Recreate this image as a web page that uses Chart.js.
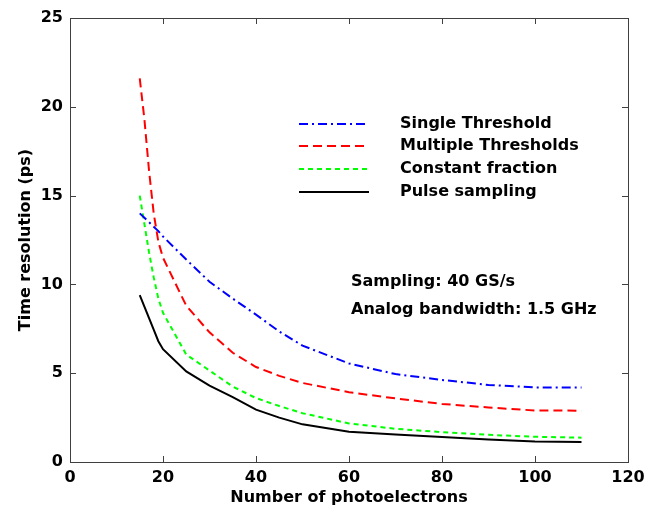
<!DOCTYPE html>
<html>
<head>
<meta charset="utf-8">
<script src="https://cdn.jsdelivr.net/npm/chart.js@4"></script>
<style>
  html, body { margin: 0; padding: 0; background: #fff; }
  #wrap { width: 661px; height: 512px; }
</style>
</head>
<body>
<div id="wrap"><canvas id="c"></canvas></div>
<script>
'use strict';

// photoelectron counts and time resolution (ps)
const npe = [15, 16, 17, 18, 19, 20, 25, 30, 35, 40, 45, 50, 60, 70, 80, 90, 100, 110];
const singleThr = [14.0, 13.75, 13.5, 13.25, 13.0, 12.7, 11.4, 10.15, 9.2, 8.3, 7.35, 6.55, 5.55, 4.95, 4.62, 4.34, 4.2, 4.2];
const multiThr = [21.6, 19.3, 16.4, 14.0, 12.4, 11.5, 8.8, 7.3, 6.15, 5.35, 4.85, 4.45, 3.93, 3.58, 3.27, 3.07, 2.9, 2.89];
const constFrac = [15.0, 13.4, 11.8, 10.4, 9.2, 8.4, 6.05, 5.15, 4.25, 3.6, 3.15, 2.75, 2.17, 1.87, 1.68, 1.53, 1.42, 1.37];
const pulseSamp = [9.4, 8.75, 8.1, 7.45, 6.8, 6.35, 5.1, 4.3, 3.65, 2.95, 2.5, 2.12, 1.71, 1.55, 1.41, 1.26, 1.15, 1.12];
const labels = ['Single Threshold', 'Multiple Thresholds', 'Constant fraction', 'Pulse sampling'];
const notes = ['Sampling: 40 GS/s', 'Analog bandwidth: 1.5 GHz'];

const FONT = 'DejaVu Sans';
const pts = (ys) => npe.map((x, i) => ({ x, y: ys[i] }));

function ds(label, ys, color, dash) {
  return { label, data: pts(ys), borderColor: color, backgroundColor: color, borderWidth: 2, borderDash: dash, pointRadius: 0, tension: 0, fill: false };
}

// box, inward ticks on all sides, in-plot legend and notes (matlab look)
const matlabish = {
  id: 'matlabish',
  afterDatasetsDraw(chart) {
    const { ctx, chartArea: a, scales } = chart;
    ctx.save();
    ctx.strokeStyle = '#404040';
    ctx.lineWidth = 1;
    ctx.setLineDash([]);
    ctx.strokeRect(Math.round(a.left) + 0.5, Math.round(a.top) + 0.5, Math.round(a.right - a.left), Math.round(a.bottom - a.top));
    const L = 6;
    ctx.beginPath();
    scales.x.ticks.forEach((t) => {
      const x = Math.round(scales.x.getPixelForValue(t.value)) + 0.5;
      ctx.moveTo(x, a.bottom); ctx.lineTo(x, a.bottom - L);
      ctx.moveTo(x, a.top); ctx.lineTo(x, a.top + L);
    });
    scales.y.ticks.forEach((t) => {
      const y = Math.round(scales.y.getPixelForValue(t.value)) + 0.5;
      ctx.moveTo(a.left, y); ctx.lineTo(a.left + L, y);
      ctx.moveTo(a.right, y); ctx.lineTo(a.right - L, y);
    });
    ctx.stroke();

    // legend
    const rows = [124, 146, 169, 192];
    ctx.font = 'bold 16px ' + FONT;
    ctx.textBaseline = 'middle';
    ctx.textAlign = 'left';
    chart.data.datasets.forEach((d, i) => {
      ctx.beginPath();
      ctx.strokeStyle = d.borderColor;
      ctx.lineWidth = 2;
      ctx.setLineDash(d.borderDash || []);
      ctx.moveTo(299, rows[i]);
      ctx.lineTo(369, rows[i]);
      ctx.stroke();
      ctx.fillStyle = '#000';
      ctx.fillText(d.label, 400, rows[i]);
    });
    ctx.fillText(notes[0], 351, 282);
    ctx.fillText(notes[1], 351, 310);
    ctx.restore();
  },
};

const tickFont = { family: FONT, size: 16, weight: 'bold' };

new Chart(document.getElementById('c'), {
  type: 'line',
  data: {
    datasets: [
      ds(labels[0], singleThr, '#0000ff', [9, 4, 2, 4]),
      ds(labels[1], multiThr, '#ff0000', [9, 5]),
      ds(labels[2], constFrac, '#00ff00', [5, 4]),
      ds(labels[3], pulseSamp, '#000000', []),
    ],
  },
  options: {
    responsive: true,
    maintainAspectRatio: false,
    animation: false,
    layout: { padding: { top: 18, right: 33, left: 0, bottom: 0 } },
    plugins: { legend: { display: false }, tooltip: { enabled: false } },
    scales: {
      x: {
        type: 'linear', min: 0, max: 120,
        ticks: { stepSize: 20, color: '#000', font: tickFont, padding: 6, maxRotation: 0 },
        grid: { display: false, drawTicks: false },
        border: { display: false },
        title: { display: true, text: 'Number of photoelectrons', color: '#000', font: tickFont, padding: { top: 0, bottom: 5 } },
        afterFit: (s) => { s.height = 50; },
      },
      y: {
        min: 0, max: 25,
        ticks: { stepSize: 5, color: '#000', font: tickFont, padding: 7 },
        grid: { display: false, drawTicks: false },
        border: { display: false },
        title: { display: true, text: 'Time resolution (ps)', color: '#000', font: tickFont, padding: { top: 16, bottom: 0 } },
        afterFit: (s) => { s.width = 70; },
      },
    },
  },
  plugins: [matlabish],
});
</script>
</body>
</html>
